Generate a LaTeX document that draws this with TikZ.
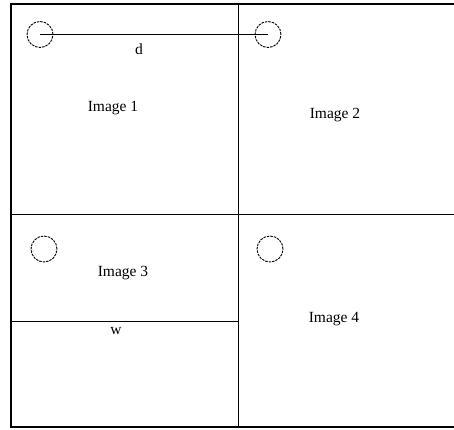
\documentclass[tikz,border=0pt]{standalone}
\usepackage{fontspec}
\setmainfont{Liberation Serif}

\begin{document}
\begin{tikzpicture}[x=1pt,y=-1pt,
  spot/.style={circle,draw,line width=0.9pt,dash pattern=on 2.5pt off 1pt,minimum size=26pt,inner sep=0pt},
  lbl/.style={font=\fontsize{15.5}{18}\selectfont,inner sep=0pt}]
\useasboundingbox (0,0) rectangle (454,429);

% outer frame
\draw[line width=2pt] (454,4) -- (11,4) -- (11,427) -- (454,427);
% dividers
\draw[line width=1pt] (238,4) -- (238,427);
\draw[line width=1pt] (11,214) -- (454,214);
\draw[line width=1pt] (11,321) -- (238,321);

\node[spot] (c1) at (40,34.5) {};
\node[spot] (c2) at (268,34.5) {};
\node[spot] (c3) at (44,249) {};
\node[spot] (c4) at (270,249) {};

\draw[line width=1pt] (c1.center) -- (c2.center);

\node[lbl] (d) at (139,49) {d};
\node[lbl] (im1) at (113,108) {Image 1};
\node[lbl] (im2) at (335,115) {Image 2};
\node[lbl] (im3) at (123,273) {Image 3};
\node[lbl] (im4) at (334,319) {Image 4};
\node[lbl] (w) at (116,331) {w};
\end{tikzpicture}
\end{document}
